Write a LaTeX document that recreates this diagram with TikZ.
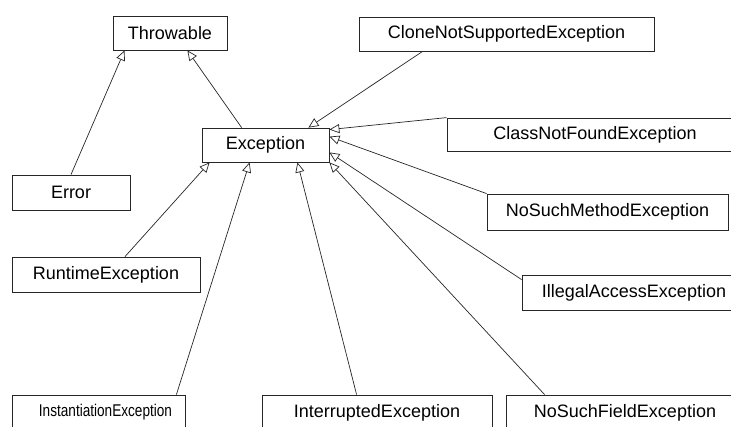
\documentclass[tikz,border=0pt]{standalone}
\usepackage{fontspec}
\setmainfont{Liberation Sans}
\usetikzlibrary{arrows.meta,calc,shadows}
\begin{document}
\begin{tikzpicture}[x=1pt,y=-1pt,
  cls/.style={draw=black!85, line width=0.8pt, fill=white, inner sep=0pt,
    font=\fontsize{18}{20}\selectfont,
    drop shadow={shadow xshift=1pt, shadow yshift=-1pt, fill=black!60, opacity=0.6}},
  inherit/.style={draw=black!85, line width=0.7pt,
    -{Triangle[open, length=10pt, width=9pt, fill=white]}}]
\useasboundingbox (0,0) rectangle (731,426);
\clip (0,0) rectangle (731,426);

% class boxes
\node[cls, minimum width=114pt, minimum height=34pt] (thr) at (170,33) {Throwable};
\node[cls, minimum width=295pt, minimum height=34pt] (cns) at (506.5,34) {CloneNotSupportedException};
\node[cls, minimum width=127pt, minimum height=34pt] (exc) at (265.5,145) {Exception};
\node[cls, minimum width=296pt, minimum height=33pt] (cnf) at (595,134.5) {ClassNotFoundException};
\node[cls, minimum width=118pt, minimum height=35pt] (err) at (71,192.5) {Error};
\node[cls, minimum width=188pt, minimum height=35pt] (rte) at (106,274.5) {RuntimeException};
\node[cls, minimum width=241pt, minimum height=36pt] (nsm) at (607.5,212) {NoSuchMethodException};
\node[cls, minimum width=224pt, minimum height=35pt] (iae) at (634,292.5) {IllegalAccessException};
\node[cls, minimum width=173pt, minimum height=35pt, font=\fontsize{17}{19}\selectfont] (ins) at (98.5,412.5) {\hspace*{14pt}\scalebox{0.8}[1]{InstantiationException}};
\node[cls, minimum width=230pt, minimum height=35pt] (inr) at (377,412.5) {InterruptedException};
\node[cls, minimum width=238pt, minimum height=35pt] (nsf) at (625,412.5) {NoSuchFieldException};

% generalisation arrows
\draw[inherit] (err.north) -- ($(thr.south west)+(12,0)$);
\draw[inherit] ($(exc.north west)+(40,0)$) -- ($(thr.south east)+(-40,0)$);
\draw[inherit] ($(cns.south west)+(64,0)$) -- ($(exc.north east)+(-21,0)$);
\draw[inherit] (cnf.north west) -- ($(exc.north east)+(0,2)$);
\draw[inherit] (nsm.north west) -- ($(exc.north east)+(0,9)$);
\draw[inherit] ($(iae.north west)+(0,5)$) -- ($(exc.south east)+(0,-10)$);
\draw[inherit] ($(nsf.north west)+(39,0)$) -- ($(exc.south east)+(0,0)$);
\draw[inherit] ($(inr.north west)+(95,0)$) -- ($(exc.south east)+(-32,0)$);
\draw[inherit] ($(ins.north east)+(-9,0)$) -- ($(exc.south west)+(48,0)$);
\draw[inherit] ($(rte.north)+(19,0)$) -- ($(exc.south west)+(8,0)$);
\end{tikzpicture}
\end{document}
